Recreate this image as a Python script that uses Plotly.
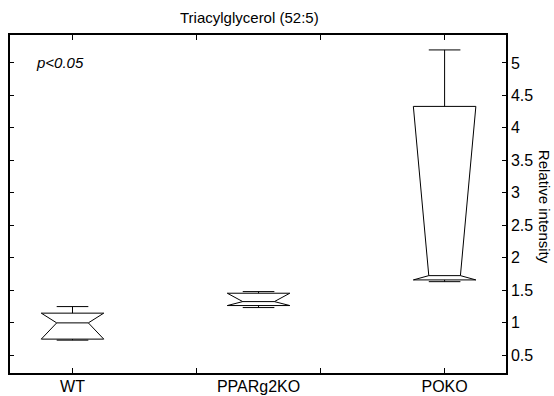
import plotly.graph_objects as go

# ---- data ----
groups = ["WT", "PPARg2KO", "POKO"]
positions = [1, 2, 3]
upper_whisker = [1.246, 1.477, 5.20]
q3_values = [1.145, 1.452, 4.33]
median_values = [0.995, 1.323, 1.723]
q1_values = [0.745, 1.262, 1.657]
lower_whisker = [0.729, 1.231, 1.63]
y_ticks = [0.5, 1, 1.5, 2, 2.5, 3, 3.5, 4, 4.5, 5]
x_minor_ticks = [1, 5 / 3, 7 / 3, 3]

FONT = "Arial, Liberation Sans, sans-serif"
half_w = 0.168      # half box width (x units)
notch_w = 0.085     # half width at the notch / whisker cap

fig = go.Figure()
for c, up, q3, med, q1, lo in zip(positions, upper_whisker, q3_values,
                                 median_values, q1_values, lower_whisker):
    bx = [c - half_w, c - notch_w, c - half_w, c + half_w, c + notch_w, c + half_w, c - half_w,
          None, c - notch_w, c + notch_w]
    by = [q1, med, q3, q3, med, q1, q1, None, med, med]
    fig.add_trace(go.Scatter(x=bx, y=by, mode="lines", line=dict(color="black", width=1),
                             hoverinfo="skip", showlegend=False))
    wx = [c, c, None, c - notch_w, c + notch_w, None, c, c, None, c - notch_w, c + notch_w]
    wy = [q3, up, None, up, up, None, q1, lo, None, lo, lo]
    fig.add_trace(go.Scatter(x=wx, y=wy, mode="lines", line=dict(color="black", width=1),
                             hoverinfo="skip", showlegend=False))

# invisible trace to activate the label axis
fig.add_trace(go.Scatter(x=positions, y=median_values, xaxis="x2", mode="markers",
                         marker=dict(opacity=0), hoverinfo="skip", showlegend=False))

xr = [0.664, 3.33]
fig.update_layout(
    width=554, height=396,
    margin=dict(l=10, r=48, t=35, b=23),
    paper_bgcolor="white", plot_bgcolor="white",
    font=dict(family=FONT, size=15, color="black"),
    xaxis=dict(range=xr, tickvals=x_minor_ticks, showticklabels=False,
               ticks="inside", ticklen=5, tickcolor="black", tickwidth=1,
               showline=True, linecolor="black", linewidth=1.5, mirror="ticks",
               showgrid=False, zeroline=False, automargin=False),
    xaxis2=dict(range=xr, overlaying="x", side="bottom", anchor="y",
                tickvals=positions, ticktext=groups, ticks="", showline=False,
                ticklabelstandoff=2, automargin=False,
                showgrid=False, zeroline=False, tickfont=dict(size=16, color="black")),
    yaxis=dict(range=[0.223, 5.43], side="right", tickvals=y_ticks,
               ticks="inside", ticklen=4, tickcolor="black", tickwidth=1,
               showline=True, linecolor="black", linewidth=1.5, mirror="ticks",
               showgrid=False, zeroline=False, automargin=False,
               tickfont=dict(size=16, color="black")),
    annotations=[
        dict(text="Triacylglycerol (52:5)", xref="paper", yref="paper",
             x=0.483, y=1.052, xanchor="center", yanchor="middle", showarrow=False,
             font=dict(size=15, color="black")),
        dict(text="<i>p<0.05</i>", xref="paper", yref="y", x=0.048, y=5.0,
             xanchor="left", yanchor="middle", showarrow=False,
             font=dict(size=15, color="black")),
        dict(text="Relative intensity", xref="paper", yref="paper", x=1.079, y=0.491,
             xanchor="center", yanchor="middle", textangle=90, showarrow=False,
             font=dict(size=15, color="black")),
    ],
)

fig.write_html("out.html")
